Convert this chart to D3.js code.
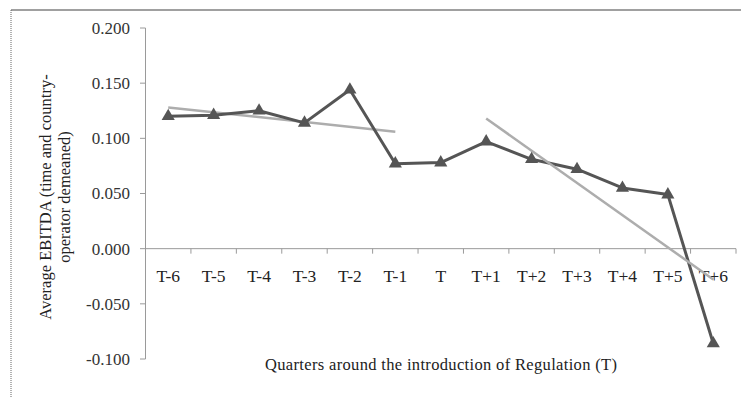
<!DOCTYPE html>
<html><head><meta charset="utf-8">
<script src="https://cdn.jsdelivr.net/npm/d3@7"></script>
<style>body{margin:0;background:#fff}svg{display:block}</style>
</head><body>
<svg id="c" width="741" height="398"></svg>
<script>
const categories = ["T-6","T-5","T-4","T-3","T-2","T-1","T","T+1","T+2","T+3","T+4","T+5","T+6"];
const ebitda = [0.120,0.121,0.125,0.114,0.144,0.077,0.078,0.097,0.081,0.072,0.055,0.049,-0.086];
const trendPreCats = ["T-6","T-1"];
const trendPreVals = [0.128,0.106];
const trendPostCats = ["T+1","T+6"];
const trendPostVals = [0.118,-0.028];
const yTicks = [-0.100,-0.050,0.000,0.050,0.100,0.150,0.200];
const yTitle = ["Average EBITDA (time and country-","operator demeaned)"];
const xTitle = "Quarters around the introduction of Regulation (T)";

const svg = d3.select("#c");
const font = "'Liberation Serif','Times New Roman',serif";
const axisCol = "#9a9a9a";

// frame
svg.append("line").attr("x1",11).attr("x2",741).attr("y1",10).attr("y2",10)
  .attr("stroke","#a0a0a0").attr("stroke-width",2);
svg.append("line").attr("x1",11).attr("x2",11).attr("y1",10).attr("y2",398)
  .attr("stroke","#666").attr("stroke-width",1).attr("stroke-dasharray","1,1");

const x = d3.scaleBand().domain(categories).range([145.5,736]);
const y = d3.scaleLinear().domain([-0.1,0.2]).range([359,28]);
const cx = c => x(c) + x.bandwidth()/2;

// y axis
svg.append("line").attr("x1",145.5).attr("x2",145.5).attr("y1",y(0.2)).attr("y2",y(-0.1))
  .attr("stroke",axisCol).attr("stroke-width",1);
const yg = svg.append("g");
yTicks.forEach(t=>{
  yg.append("line").attr("x1",140).attr("x2",145.5).attr("y1",y(t)).attr("y2",y(t))
    .attr("stroke",axisCol);
  yg.append("text").attr("x",130).attr("y",y(t)).attr("dy","0.35em")
    .attr("text-anchor","end").attr("font-family",font).attr("font-size",17)
    .attr("fill","#333").text(d3.format(".3f")(t).replace("−","-"));
});

// x axis at zero
svg.append("line").attr("x1",145.5).attr("x2",736).attr("y1",y(0)).attr("y2",y(0))
  .attr("stroke",axisCol).attr("stroke-width",1);
categories.forEach((c,i)=>{
  const bx = x(c)+x.bandwidth();
  svg.append("line").attr("x1",bx).attr("x2",bx).attr("y1",y(0)).attr("y2",y(0)+5)
    .attr("stroke",axisCol);
  svg.append("text").attr("x",cx(c)).attr("y",282).attr("text-anchor","middle")
    .attr("font-family",font).attr("font-size",17.5).attr("fill","#222").text(c);
});

// trend lines
const tl = d3.line().x(d=>cx(d[0])).y(d=>y(d[1]));
svg.append("path").attr("d",tl(d3.zip(trendPreCats,trendPreVals)))
  .attr("fill","none").attr("stroke","#adadad").attr("stroke-width",2.5);

// series
const line = d3.line().x((d,i)=>cx(categories[i])).y(d=>y(d));
svg.append("path").attr("d",line(ebitda)).attr("fill","none")
  .attr("stroke","#555").attr("stroke-width",3).attr("stroke-linejoin","round");
svg.append("path").attr("d",tl(d3.zip(trendPostCats,trendPostVals)))
  .attr("fill","none").attr("stroke","#adadad").attr("stroke-width",2.5);
const sym = d3.symbol().type(d3.symbolTriangle).size(75);
svg.selectAll(".m").data(ebitda).join("path").attr("class","m")
  .attr("transform",(d,i)=>`translate(${cx(categories[i])},${y(d)})`)
  .attr("d",sym).attr("fill","#555");

// titles
svg.append("text").attr("x",441).attr("y",370).attr("text-anchor","middle")
  .attr("font-family",font).attr("font-size",16.5).attr("fill","#222")
  .attr("textLength",352).attr("lengthAdjust","spacing").text(xTitle);
yTitle.forEach((t,i)=>{
  svg.append("text").attr("transform",`translate(${51+i*19},197) rotate(-90)`)
    .attr("text-anchor","middle").attr("font-family",font).attr("font-size",16.5)
    .attr("fill","#222").text(t);
});
</script>
</body></html>
